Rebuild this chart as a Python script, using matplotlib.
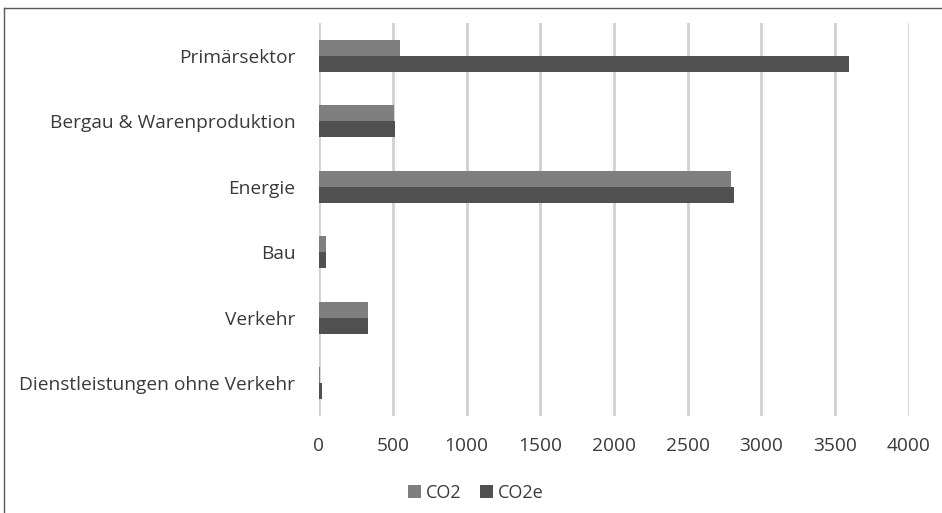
import matplotlib.pyplot as plt
import numpy as np

# sector emissions
sectors = ["Primärsektor", "Bergau & Warenproduktion", "Energie", "Bau",
           "Verkehr", "Dienstleistungen ohne Verkehr"]
co2 = [550, 510, 2790, 45, 330, 5]
co2e = [3590, 515, 2812, 48, 335, 20]
x_ticks = [0, 500, 1000, 1500, 2000, 2500, 3000, 3500, 4000]

plt.rcParams['font.family'] = ['Open Sans', 'DejaVu Sans']
text_col = '#3a3a3a'

fig = plt.figure(figsize=(9.42, 5.13), dpi=100)
ax = fig.add_axes([319 / 942, 1 - 416 / 513, 590 / 942, 393 / 513])

y = np.arange(len(sectors))
h = 0.245
ax.barh(y - h / 2, co2, height=h, color='#7f7f7f', label='CO2', zorder=3)
ax.barh(y + h / 2, co2e, height=h, color='#505050', label='CO2e', zorder=3)

ax.set_ylim(len(sectors) - 0.5, -0.5)
ax.set_xlim(0, 4000)
ax.set_xticks(x_ticks)
ax.set_yticks(y)
ax.set_yticklabels(sectors)
ax.tick_params(axis='both', length=0, labelsize=13.8, colors=text_col)
ax.tick_params(axis='y', pad=17)
ax.tick_params(axis='x', pad=15)

ax.grid(axis='x', color='#d0d0d0', linewidth=2, zorder=0)
for s in ax.spines.values():
    s.set_visible(False)

fig.legend(loc='center', bbox_to_anchor=(476 / 942, 1 - 493 / 513), ncol=2,
           frameon=False, fontsize=13, handlelength=0.7, handleheight=0.7,
           handletextpad=0.3, columnspacing=1.0, labelcolor=text_col)

# chart frame (only top and left edges visible)
fig.add_artist(plt.Line2D([4 / 942, 4 / 942], [0, 1 - 8 / 513], color='#595959', linewidth=1))
fig.add_artist(plt.Line2D([4 / 942, 1], [1 - 8 / 513, 1 - 8 / 513], color='#595959', linewidth=1))

fig.savefig('out.png', dpi=100)
